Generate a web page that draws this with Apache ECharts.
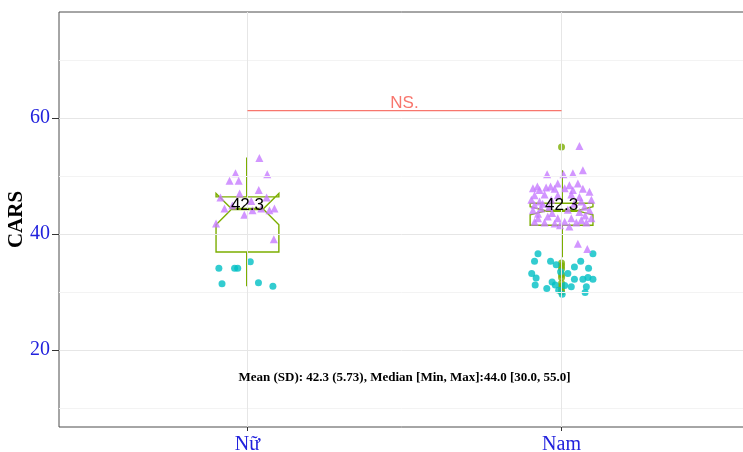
<!DOCTYPE html>
<html>
<head>
<meta charset="utf-8">
<script src="https://cdn.jsdelivr.net/npm/echarts@6/dist/echarts.min.js"></script>
<style>
  html, body { margin: 0; padding: 0; background: #fff; }
  #chart { width: 743px; height: 452px; }
</style>
</head>
<body>
<div id="chart"></div>
<script>
// groups on the x axis
const groups = ['Nữ', 'Nam']

// box stats per group: [lowWhisker, q1, notchLow, median, notchHigh, q3, highWhisker]
const boxStats = [
  [31.0, 36.9, 41.6, 44.3, 47.0, 46.4, 53.2],
  [36.0, 41.5, 43.3, 44.0, 44.7, 45.3, 51.0],
]
const outliers = [
  [],
  [55.0, 35.0, 34.5, 34.0, 33.0, 32.5, 31.5, 31.0, 30.5, 30.0],
]
const groupMeans = [42.3, 42.3]

// jittered observations: [x jitter, CARS]
const femaleHigh = [
  [0.038, 53.1], [-0.038, 50.5], [0.063, 50.3], [-0.057, 49.2], [-0.028, 49.2],
  [0.036, 47.6], [-0.025, 47.0], [-0.086, 46.3], [0.012, 45.7], [0.061, 46.3],
  [-0.073, 44.4], [-0.048, 44.9], [0.016, 44.1], [0.044, 44.4], [0.07, 44.1],
  [0.086, 44.4], [-0.01, 43.3], [-0.1, 41.8], [0.084, 39.1],
]
const femaleLow = [
  [-0.091, 34.1], [-0.041, 34.1], [-0.031, 34.1], [0.009, 35.2],
  [-0.081, 31.4], [0.035, 31.6], [0.081, 31.0],
]
const maleHigh = [
  [0.057, 55.2], [-0.046, 50.3], [0.006, 50.3], [0.036, 50.5], [0.068, 51.0],
  [-0.077, 48.2], [-0.035, 48.2], [-0.012, 48.7], [0.025, 48.4], [0.052, 48.7],
  [-0.091, 47.9], [-0.07, 47.6], [-0.049, 48.0], [-0.022, 47.8], [0.01, 47.9],
  [0.036, 47.6], [0.068, 47.8], [0.089, 47.3],
  [-0.086, 46.7], [-0.054, 46.8], [-0.012, 46.7], [0.031, 46.8], [0.057, 46.4],
  [-0.096, 45.9], [-0.07, 45.6], [-0.033, 45.9], [0.063, 45.6], [0.095, 45.9],
  [-0.086, 45.0], [0.073, 44.7], [-0.091, 44.1], [-0.065, 44.4], [0.057, 43.8], [0.089, 44.1],
  [-0.075, 42.7], [-0.044, 43.0], [-0.012, 42.7], [0.031, 42.7], [0.063, 42.4], [0.095, 42.7],
  [-0.086, 42.1], [-0.054, 42.0], [0.01, 42.1], [0.047, 42.0], [0.079, 42.0], [-0.022, 41.8],
  [-0.06, 45.2], [-0.04, 44.6], [-0.075, 43.5], [-0.03, 43.6], [0.04, 45.2],
  [0.075, 43.2], [0.02, 44.2], [-0.005, 41.5], [0.025, 41.3],
  [0.052, 38.3], [0.082, 37.4],
]
const maleLow = [
  [-0.075, 36.6], [0.1, 36.6], [-0.086, 35.3], [-0.035, 35.3], [0.061, 35.3],
  [-0.017, 34.7], [0.041, 34.3], [0.086, 34.1], [-0.095, 33.2], [0.02, 33.2],
  [-0.003, 33.5], [-0.081, 32.4], [0.041, 32.2], [0.068, 32.2], [0.084, 32.5],
  [0.1, 32.2], [-0.03, 31.7], [-0.084, 31.2], [-0.02, 31.2], [0.01, 31.1],
  [0.031, 30.9], [0.079, 30.9], [-0.047, 30.6], [-0.009, 30.3], [0.075, 29.9], [0.002, 29.6],
]

// comparison bracket and overall summary
const nsLevel = 61.3
const nsLabel = 'NS.'
const summary = [42.3, 5.73, 44.0, 30.0, 55.0] // mean, sd, median, min, max
const summaryLevel = 15.3

const yTicks = [20, 40, 60]
const yMajor = [20, 40, 60]
const yMinor = [10, 30, 50, 70]

const GREEN = '#7CAE00'
const TEAL = '#00BFC4'
const PURPLE = '#C77CFF'
const RED = '#F8766D'

const toPoints = (arr, g) => arr.map(([dx, v]) => [g + dx, v])
const highPts = toPoints(femaleHigh, 1).concat(toPoints(maleHigh, 2))
const lowPts = toPoints(femaleLow, 1).concat(toPoints(maleLow, 2))
const outlierPts = []
outliers.forEach((arr, i) => arr.forEach((v) => outlierPts.push([i + 1, v])))

function renderBox(params, api) {
  const x = api.value(0)
  const lo = api.value(1), q1 = api.value(2), nLo = api.value(3), med = api.value(4)
  const nHi = api.value(5), q3 = api.value(6), hi = api.value(7)
  const hw = 0.1, ind = 0.05
  const c = (xx, yy) => api.coord([xx, yy])
  const pts = [
    c(x - hw, q3), c(x - hw, nHi), c(x - hw + ind, med), c(x - hw, nLo), c(x - hw, q1),
    c(x + hw, q1), c(x + hw, nLo), c(x + hw - ind, med), c(x + hw, nHi), c(x + hw, q3),
  ]
  const stroke = { stroke: GREEN, lineWidth: 1.4, fill: null }
  const line = (a, b, w) => ({
    type: 'line',
    shape: { x1: a[0], y1: a[1], x2: b[0], y2: b[1] },
    style: { stroke: GREEN, lineWidth: w },
  })
  // whisker snapped to whole pixels so it stays crisp
  const wx = Math.round(c(x, q1)[0])
  return {
    type: 'group',
    children: [
      line([wx, c(x, q3)[1]], [wx, c(x, hi)[1]], 2),
      line([wx, c(x, q1)[1]], [wx, c(x, lo)[1]], 2),
      { type: 'polygon', shape: { points: pts }, style: stroke },
      line(c(x - hw + ind, med), c(x + hw - ind, med), 2.4),
    ],
  }
}

function renderTexts(params, api) {
  const p = api.coord([api.value(0), api.value(1)])
  const kind = api.value(2)
  if (kind === 0) {
    return {
      type: 'text', x: p[0], y: p[1] - 15,
      style: { text: api.value(3).toFixed(1), fill: '#000', font: '17px "Liberation Sans", Arial, sans-serif', align: 'center', verticalAlign: 'middle' },
    }
  }
  if (kind === 1) {
    return {
      type: 'text', x: p[0], y: p[1] + 1,
      style: { text: nsLabel, fill: RED, font: '17px "Liberation Sans", Arial, sans-serif', align: 'center', verticalAlign: 'bottom' },
    }
  }
  const [m, sd, md, mn, mx] = summary
  const txt = 'Mean (SD): ' + m.toFixed(1) + ' (' + sd.toFixed(2) + '), Median [Min, Max]:' +
    md.toFixed(1) + ' [' + mn.toFixed(1) + ', ' + mx.toFixed(1) + ']'
  return {
    type: 'text', x: p[0], y: p[1],
    style: { text: txt, fill: '#000', font: 'bold 13px "Liberation Serif", "Times New Roman", serif', align: 'center', verticalAlign: 'middle' },
  }
}

const textData = [
  [1, groupMeans[0], 0, groupMeans[0]],
  [2, groupMeans[1], 0, groupMeans[1]],
  [1.5, nsLevel, 1, 0],
  [1.5, summaryLevel, 2, 0],
]

const chart = echarts.init(document.getElementById('chart'))
chart.setOption({
  animation: false,
  backgroundColor: '#fff',
  grid: {
    left: 59, top: 12, right: -7, bottom: 25,
    containLabel: false, outerBoundsMode: 'none',
    show: true, borderColor: '#4d4d4d', borderWidth: 1, backgroundColor: 'transparent',
  },
  xAxis: {
    type: 'value', min: 0.4, max: 2.6,
    axisLine: { show: false },
    splitLine: { show: false },
    axisTick: { show: true, customValues: [1, 2], length: 4, lineStyle: { color: '#333' } },
    axisLabel: {
      customValues: [1, 2], margin: 8,
      formatter: (v) => groups[Math.round(v) - 1],
      color: '#2222dd', fontFamily: '"Liberation Serif", "Times New Roman", serif', fontSize: 20,
    },
  },
  yAxis: {
    type: 'value', min: 6.7, max: 78.3,
    name: 'CARS', nameLocation: 'middle', nameGap: 32, nameMoveOverlap: false,
    nameTextStyle: { color: '#000', fontWeight: 'bold', fontSize: 21, fontFamily: '"Liberation Serif", "Times New Roman", serif' },
    axisLine: { show: false },
    splitLine: { show: false },
    axisTick: { show: true, customValues: yTicks, length: 7, lineStyle: { color: '#333' } },
    axisLabel: {
      customValues: yTicks, margin: 9,
      color: '#2222dd', fontFamily: '"Liberation Serif", "Times New Roman", serif', fontSize: 20,
    },
  },
  series: [
    {
      type: 'line', data: [], z: 1, silent: true,
      markLine: {
        silent: true, symbol: ['none', 'none'], label: { show: false },
        data: [
          ...yMinor.map((v) => ({ yAxis: v, lineStyle: { color: '#f3f3f3', width: 1, type: 'solid' } })),
          ...yMajor.map((v) => ({ yAxis: v, lineStyle: { color: '#e6e6e6', width: 1, type: 'solid' } })),
          ...[1, 2].map((v) => ({ xAxis: v, lineStyle: { color: '#e6e6e6', width: 1, type: 'solid' } })),
        ],
      },
    },
    {
      type: 'custom', z: 2, silent: true,
      renderItem: renderBox,
      data: boxStats.map((s, i) => [i + 1, ...s]),
    },
    {
      type: 'scatter', z: 3, symbol: 'circle', symbolSize: 7,
      itemStyle: { color: GREEN }, data: outlierPts,
    },
    {
      type: 'scatter', z: 4, symbol: 'circle', symbolSize: 7,
      itemStyle: { color: TEAL }, data: lowPts,
    },
    {
      type: 'scatter', z: 4, symbol: 'triangle', symbolSize: 8,
      itemStyle: { color: PURPLE }, data: highPts,
    },
    {
      type: 'line', z: 5, silent: true, symbol: 'none',
      lineStyle: { color: RED, width: 1.2 },
      data: [[1, nsLevel], [2, nsLevel]],
    },
    {
      type: 'custom', z: 6, silent: true,
      renderItem: renderTexts,
      data: textData,
    },
  ],
})
</script>
</body>
</html>
